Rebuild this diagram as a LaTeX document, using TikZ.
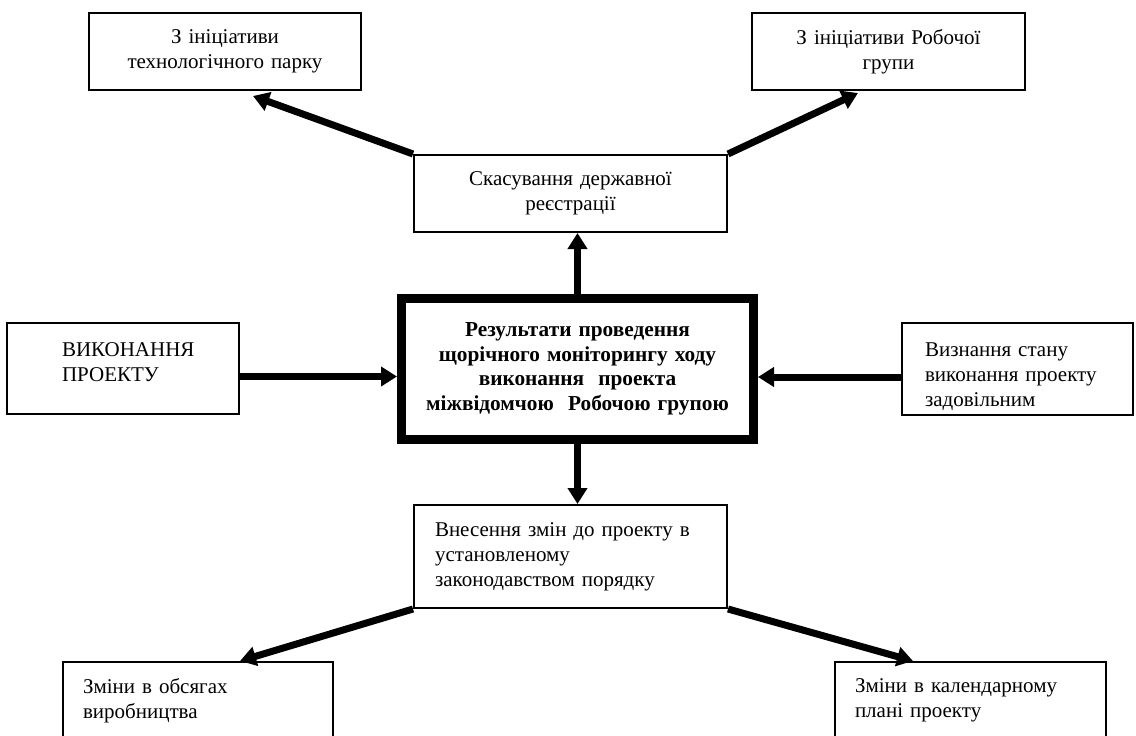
\documentclass[tikz,border=0pt]{standalone}
\usepackage{fontspec}
\setmainfont{Liberation Serif}
\usetikzlibrary{arrows.meta}

\begin{document}
\begin{tikzpicture}[x=1pt,y=-1pt,
  box/.style={draw, line width=2pt, rectangle, inner sep=0pt,
    font=\fontsize{21}{25}\selectfont},
  mainbox/.style={draw, line width=9pt, rectangle, inner sep=0pt,
    align=center, font=\fontsize{21.3}{24.5}\selectfont\bfseries},
  arr/.style={line width=7pt, -{Triangle[length=16pt,width=19pt]}}]

  \useasboundingbox (0,0) rectangle (1136,736);
  \fill[white] (0,0) rectangle (1136,736);
  \clip (0,0) rectangle (1136,736);

  % central node
  \node[mainbox, minimum width=352pt, minimum height=141pt, text width=345pt]
    (ctr) at (577.5,369) {Результати проведення\\щорічного моніторингу ходу\\виконання\ \ проекта\\міжвідомчою\ \ Робочою групою};

  % upper branch
  \node[box, align=center, minimum width=313pt, minimum height=77pt, text width=290pt]
    (sk) at (570.5,193.5) {Скасування державної\\реєстрації};
  \node[box, align=center, minimum width=272pt, minimum height=77pt, text width=250pt]
    (tl) at (225,51.5) {З ініціативи\\технологічного парку};
  \node[box, align=center, minimum width=273pt, minimum height=77pt, text width=250pt]
    (tr) at (888.5,51.5) {З ініціативи Робочої\\групи};

  % side inputs (text set towards the top of the box)
  \node[box, align=left, minimum width=232pt, minimum height=91pt, text width=122pt]
    (vk) at (123,368.5) {ВИКОНАННЯ\\ПРОЕКТУ\\[-13pt]\mbox{}};
  \node[box, align=left, minimum width=231pt, minimum height=92pt, text width=185pt]
    (vz) at (1017.5,369) {\mbox{}\\[5pt]Визнання стану\\виконання проекту\\задовільним};

  % lower branch
  \node[box, align=left, minimum width=313pt, minimum height=103pt, text width=271pt]
    (bc) at (570.5,556.5) {Внесення змін до проекту в\\установленому\\законодавством порядку};
  \node[box, align=left, anchor=north, minimum width=270pt, minimum height=98pt, text width=230pt]
    (bl) at (198,661) {Зміни в обсягах\\виробництва\\\mbox{}};
  \node[box, align=left, anchor=north, minimum width=271pt, minimum height=98pt, text width=231pt]
    (br) at (970.5,661) {Зміни в календарному\\плані проекту\\\mbox{}};

  % connectors
  \draw[arr] (ctr.north) -- (ctr.north |- sk.south);
  \draw[arr] (ctr.south) -- (ctr.south |- bc.north);
  \draw[arr] ([yshift=-8pt]vk.east) -- ([yshift=-8pt]vk.east -| ctr.west);
  \draw[arr] ([yshift=-8pt]vz.west) -- ([yshift=-8pt]vz.west -| ctr.east);

  \coordinate (tlend) at ([xshift=28pt,yshift=-5pt]tl.south);
  \coordinate (trend) at ([xshift=-30.5pt,yshift=-2pt]tr.south);
  \coordinate (blend) at ([xshift=42pt]bl.north);
  \coordinate (brend) at ([xshift=-57.5pt]br.north);

  \draw[arr] (sk.north west) -- (tlend);
  \draw[arr] (sk.north east) -- (trend);
  \draw[arr] (bc.south west) -- (blend);
  \draw[arr] (bc.south east) -- (brend);
\end{tikzpicture}
\end{document}
